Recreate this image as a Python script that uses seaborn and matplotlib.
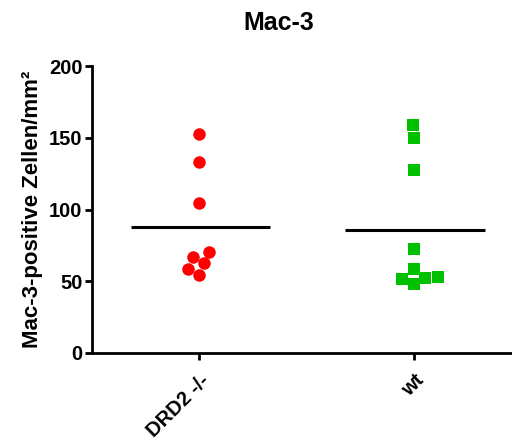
import numpy as np
import pandas as pd
import matplotlib
matplotlib.use("Agg")
import matplotlib.pyplot as plt
import seaborn as sns

groups = ["DRD2 -/-", "wt"]
drd2_values = [152.6, 133.0, 104.7, 70.7, 66.8, 62.6, 58.7, 54.5]
wt_values = [158.7, 150.0, 127.3, 72.3, 58.7, 53.2, 52.5, 51.4, 47.9]
colors = ["#ff0000", "#00c000"]
markers = ["o", "s"]

df = pd.DataFrame({
    "group": [groups[0]] * len(drd2_values) + [groups[1]] * len(wt_values),
    "value": drd2_values + wt_values,
})

sns.set_style("ticks")
plt.rcParams["font.family"] = ["Liberation Sans", "DejaVu Sans"]
plt.rcParams["font.weight"] = "bold"
plt.rcParams["text.color"] = "black"
plt.rcParams["axes.labelcolor"] = "black"
plt.rcParams["xtick.color"] = "black"
plt.rcParams["ytick.color"] = "black"

fig = plt.figure(figsize=(5.12, 4.43), dpi=100)
ax = fig.add_axes([92 / 512, 1 - 353 / 443, 1 - 92 / 512, (353 - 66) / 443])

for i, g in enumerate(groups):
    sub = df[df["group"] == g]
    sns.swarmplot(data=sub, x="group", y="value", order=groups, color=colors[i],
                  marker=markers[i], size=9, linewidth=0, ax=ax)

# mean lines
means = df.groupby("group")["value"].mean()
for i, g in enumerate(groups):
    ax.hlines(means[g], i - 0.32, i + 0.33, color="black", lw=2.2, zorder=5)

ax.set_xlim(-0.5, (512 - 199) / 215)
ax.set_ylim(0, 200)
ax.set_yticks([0, 50, 100, 150, 200])
ax.set_xlabel("")
ax.set_ylabel("Mac-3-positive Zellen/mm²", fontsize=16, fontweight="bold", labelpad=4)
sns.despine(ax=ax)
for s in ["left", "bottom"]:
    ax.spines[s].set_linewidth(2)
    ax.spines[s].set_color("black")
ax.tick_params(axis="both", width=2, length=5, labelsize=14.5, color="black")
ax.tick_params(axis="x", pad=8)
ax.tick_params(axis="y", pad=2)
plt.setp(ax.get_xticklabels(), rotation=45, ha="right", rotation_mode="anchor",
         fontweight="bold")
plt.setp(ax.get_yticklabels(), fontweight="bold")

fig.text(0.545, 0.948, "Mac-3", ha="center", va="center", fontsize=18, fontweight="bold")

fig.savefig("out.png", dpi=100)
